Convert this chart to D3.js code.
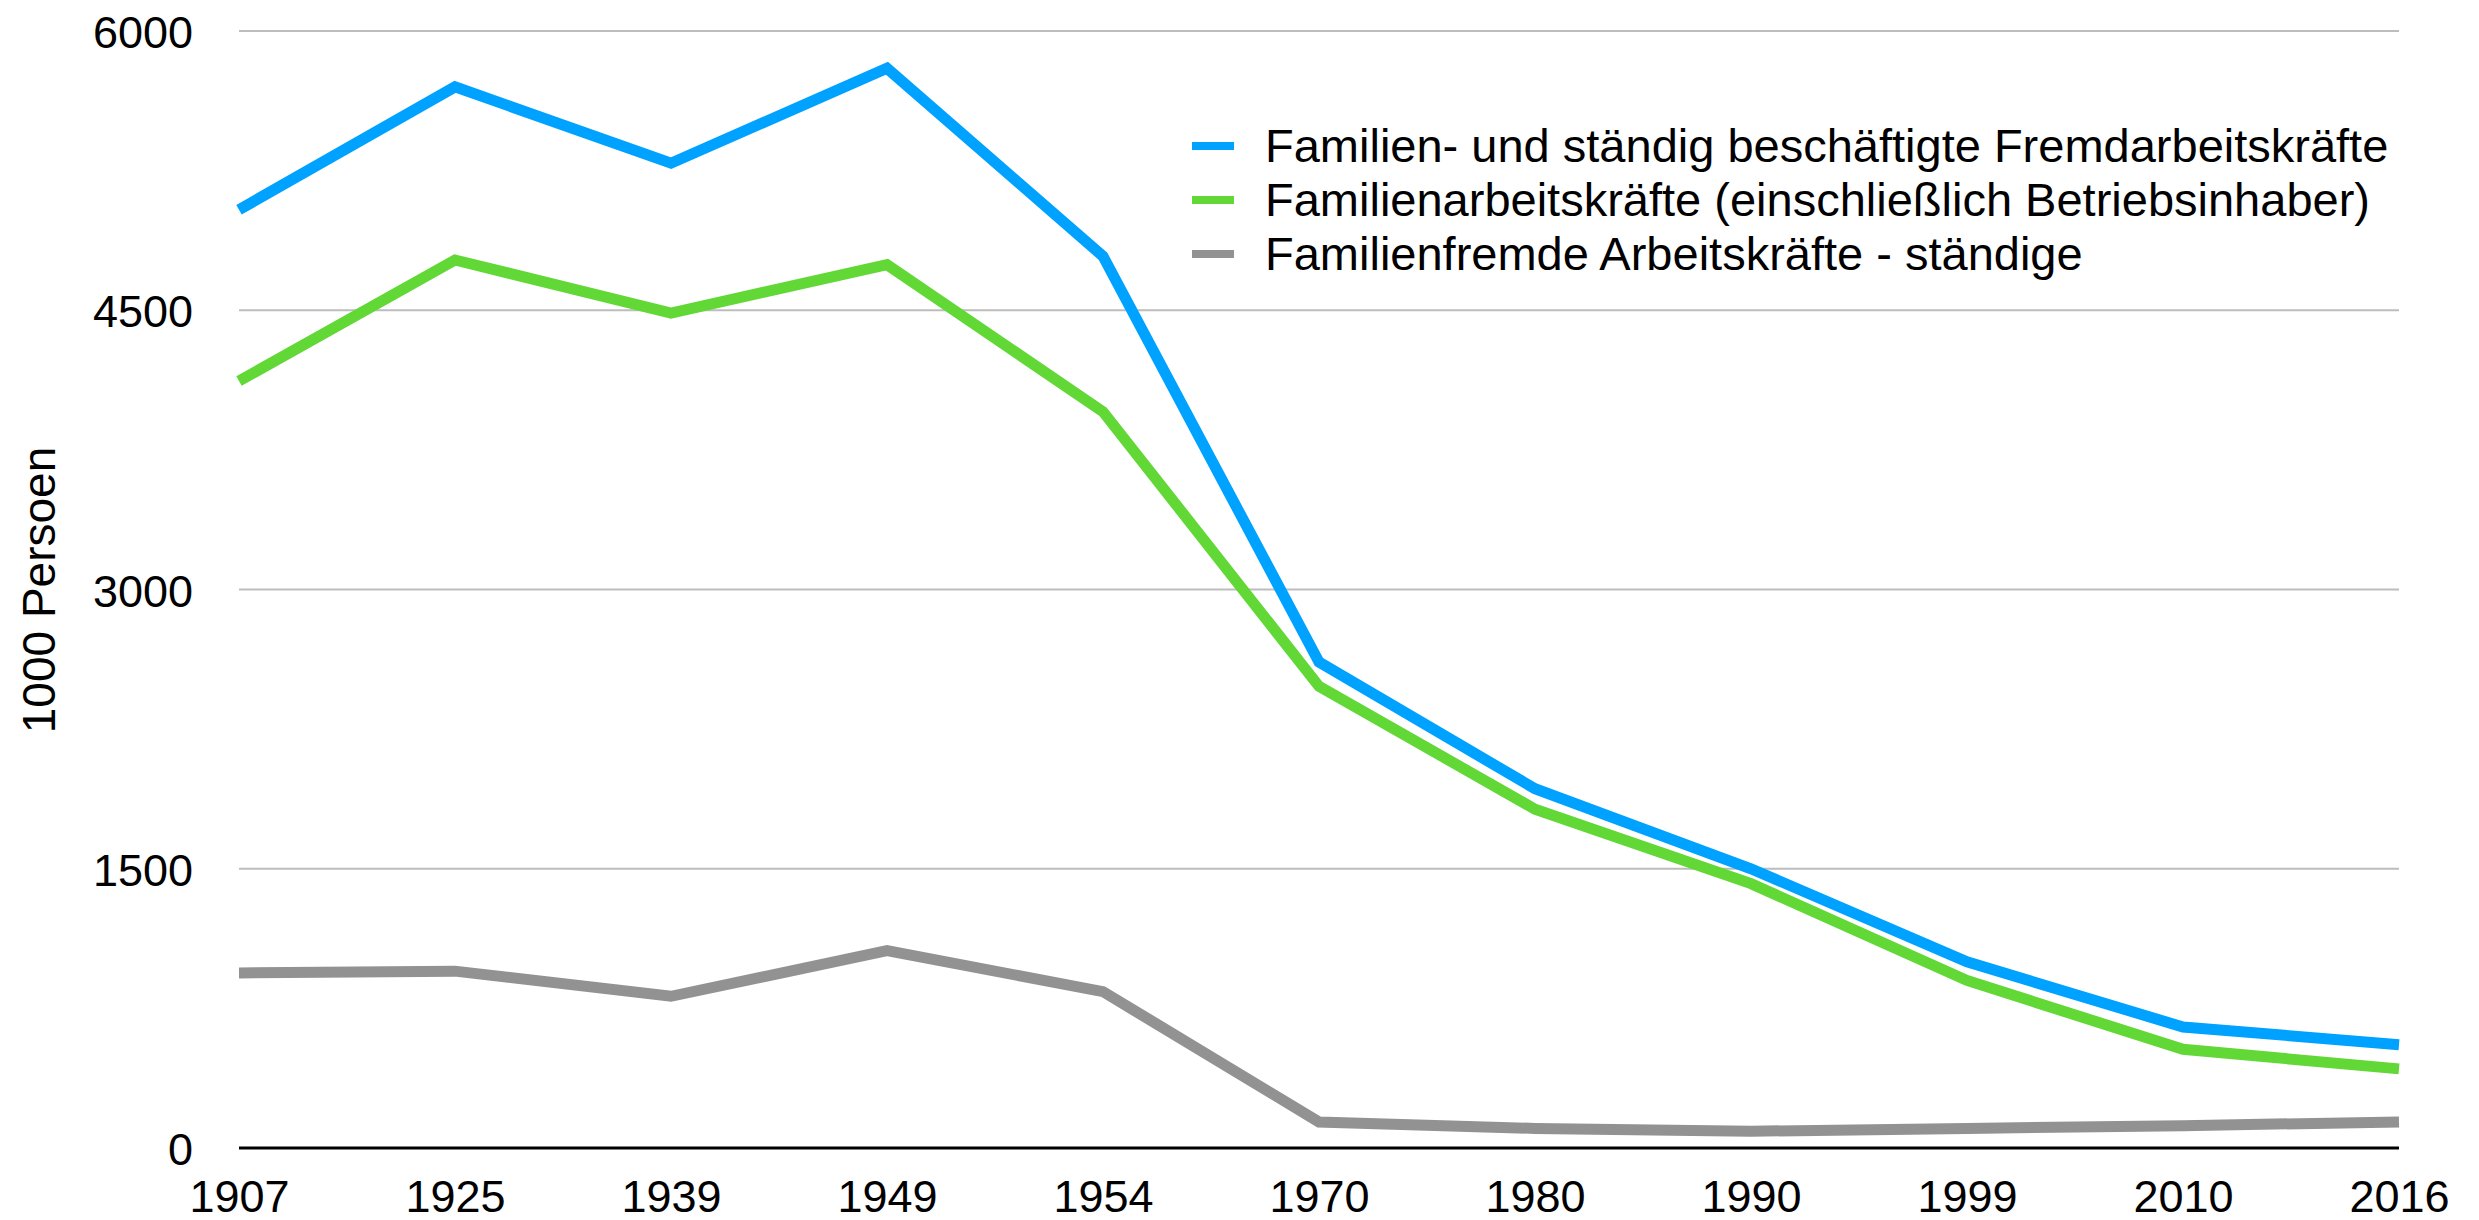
<!DOCTYPE html>
<html>
<head>
<meta charset="utf-8">
<script src="https://cdn.jsdelivr.net/npm/d3@7"></script>
<style>
    html, body { margin: 0; padding: 0; background: #fff; }
    svg { display: block; }
</style>
</head>
<body>
<svg id="chart" width="2479" height="1220"></svg>
<script>
'use strict';

// Data (1000 Personen)
const years = ["1907", "1925", "1939", "1949", "1954", "1970", "1980", "1990", "1999", "2010", "2016"];
const total = [5040, 5700, 5290, 5800, 4790, 2610, 1930, 1500, 1000, 650, 555];
const family = [4120, 4770, 4485, 4745, 3955, 2480, 1820, 1420, 900, 530, 425];
const foreign = [940, 950, 815, 1060, 840, 140, 105, 90, 105, 120, 140];
const yTicks = [0, 1500, 3000, 4500, 6000];
const seriesNames = [
    "Familien- und ständig beschäftigte Fremdarbeitskräfte",
    "Familienarbeitskräfte (einschließlich Betriebsinhaber)",
    "Familienfremde Arbeitskräfte - ständige"
];
const seriesColors = ["#00a2ff", "#61d836", "#929292"];

function main() {
    const svg = d3.select("#chart");
    const margin = {top: 31, left: 239, right: 80};
    const width = 2479;
    const font = "Liberation Sans, Arial, sans-serif";

    const x = d3.scalePoint().domain(years).range([margin.left, width - margin.right]);
    const y = d3.scaleLinear().domain([0, 6000]).range([1148, margin.top]);

    // gridlines
    svg.append("g")
        .selectAll("line")
        .data(yTicks.filter(d => d > 0))
        .join("line")
        .attr("x1", margin.left)
        .attr("x2", width - margin.right)
        .attr("y1", d => y(d))
        .attr("y2", d => y(d))
        .attr("stroke", "#bdbdbd")
        .attr("stroke-width", 2);

    // y axis labels
    const yAxis = d3.axisLeft(y).tickValues(yTicks).tickFormat(d3.format("d")).tickSize(0).tickPadding(46);
    svg.append("g")
        .attr("transform", `translate(${margin.left},0)`)
        .call(yAxis)
        .call(g => g.select(".domain").remove())
        .selectAll("text")
        .attr("font-family", font)
        .attr("font-size", 45)
        .attr("fill", "#000")
        .attr("dy", "0.37em");

    // x axis labels
    const xAxis = d3.axisBottom(x).tickSize(0).tickPadding(32);
    svg.append("g")
        .attr("transform", `translate(0,${y(0)})`)
        .call(xAxis)
        .call(g => g.select(".domain").remove())
        .selectAll("text")
        .attr("font-family", font)
        .attr("font-size", 45)
        .attr("fill", "#000");

    // baseline
    svg.append("line")
        .attr("x1", margin.left)
        .attr("x2", width - margin.right)
        .attr("y1", y(0))
        .attr("y2", y(0))
        .attr("stroke", "#000")
        .attr("stroke-width", 3);

    // lines
    const line = d3.line().x((d, i) => x(years[i])).y(d => y(d));
    const series = [total, family, foreign];
    svg.append("g")
        .selectAll("path")
        .data(series)
        .join("path")
        .attr("d", d => line(d))
        .attr("fill", "none")
        .attr("stroke", (d, i) => seriesColors[i])
        .attr("stroke-width", 11)
        .attr("stroke-linejoin", "miter")
        .attr("stroke-linecap", "butt");

    // y axis title
    svg.append("text")
        .attr("transform", "translate(55,590) rotate(-90)")
        .attr("text-anchor", "middle")
        .attr("font-family", font)
        .attr("font-size", 46)
        .attr("fill", "#000")
        .text("1000 Persoen");

    // legend
    const legend = svg.append("g").attr("transform", "translate(1192,146)");
    const item = legend.selectAll("g")
        .data(seriesNames)
        .join("g")
        .attr("transform", (d, i) => `translate(0,${i * 54})`);
    item.append("rect")
        .attr("x", 0)
        .attr("y", -4)
        .attr("width", 42)
        .attr("height", 8)
        .attr("fill", (d, i) => seriesColors[i]);
    item.append("text")
        .attr("x", 73)
        .attr("y", 0)
        .attr("dy", "0.35em")
        .attr("font-family", font)
        .attr("font-size", 47)
        .attr("fill", "#000")
        .text(d => d);
}

main();
</script>
</body>
</html>
